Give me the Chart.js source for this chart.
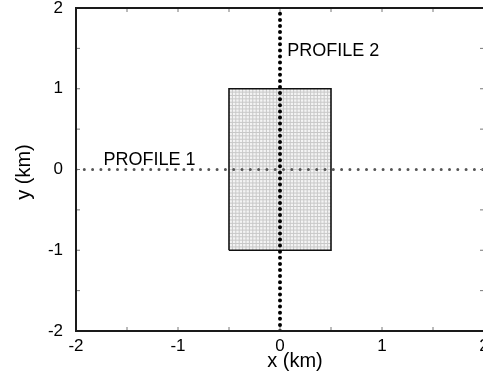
<!DOCTYPE html>
<html>
<head>
<meta charset="utf-8">
<script src="https://cdn.jsdelivr.net/npm/chart.js@4"></script>
<style>
  html, body { margin: 0; padding: 0; background: #fff; overflow: hidden; }
  canvas { display: block; }
</style>
</head>
<body>
<canvas id="profileMap" width="500" height="379"></canvas>
<script>
// axis range and tick labels (km)
const axisRange = [-2, 2];
const tickValues = [-2, -1, 0, 1, 2];
const minorTicks = [-2, -1.5, -1, -0.5, 0, 0.5, 1, 1.5, 2];

// model block outline
const blockX = [-0.5, 0.5];
const blockY = [-1, 1];
const meshCellsX = 30;
const meshCellsY = 48;

// profile lines
const profile1X = [-2, 2];
const profile1Y = [0, 0];
const profile2X = [0, 0];
const profile2Y = [-2, 2];

// profile labels: text, x, y (km)
const labelText = ['PROFILE 1', 'PROFILE 2'];
const labelX = [-1.73, 0.07];
const labelY = [0.055, 1.41];

const FONT = '"Liberation Sans", Arial, Helvetica, sans-serif';

function line(xs, ys, style) {
  return Object.assign({
    data: xs.map((x, i) => ({ x: x, y: ys[i] })),
    showLine: true,
    pointRadius: 0,
    fill: false
  }, style);
}

const datasets = [];

// profile lines on top (lowest index is drawn last)
datasets.push(line(profile2X, profile2Y, {
  borderColor: '#000', borderWidth: 4, borderDash: [0, 6.1], borderCapStyle: 'round'
}));
datasets.push(line(profile1X, profile1Y, {
  borderColor: '#555', borderWidth: 3, borderDash: [0, 8.3], borderCapStyle: 'round'
}));

// block outline
datasets.push(line(
  [blockX[0], blockX[1], blockX[1], blockX[0], blockX[0]],
  [blockY[0], blockY[0], blockY[1], blockY[1], blockY[0]],
  { borderColor: '#111', borderWidth: 1.6, tension: 0 }
));

// mesh lines inside the block
const dx = (blockX[1] - blockX[0]) / meshCellsX;
const dy = (blockY[1] - blockY[0]) / meshCellsY;
for (let i = 1; i < meshCellsX; i++) {
  const x = blockX[0] + i * dx;
  datasets.push(line([x, x], blockY, { borderColor: '#c8c8c8', borderWidth: 1 }));
}
for (let j = 1; j < meshCellsY; j++) {
  const y = blockY[0] + j * dy;
  datasets.push(line(blockX, [y, y], { borderColor: '#c8c8c8', borderWidth: 1 }));
}

// light fill under the mesh
datasets.push(line(
  [blockX[0], blockX[1], blockX[1], blockX[0], blockX[0]],
  [blockY[0], blockY[0], blockY[1], blockY[1], blockY[0]],
  { borderWidth: 0, borderColor: 'rgba(0,0,0,0)', fill: 'shape', backgroundColor: '#f4f4f4' }
));

// frame, inward ticks, axis titles and profile labels
const framePlugin = {
  id: 'frame',
  afterDatasetsDraw(chart) {
    const { ctx, chartArea: a, scales: { x, y } } = chart;
    ctx.save();
    ctx.strokeStyle = '#777';
    ctx.lineWidth = 1;
    const tl = 4;
    ctx.beginPath();
    minorTicks.forEach(v => {
      const px = x.getPixelForValue(v);
      ctx.moveTo(px, a.bottom); ctx.lineTo(px, a.bottom - tl);
      ctx.moveTo(px, a.top); ctx.lineTo(px, a.top + tl);
      const py = y.getPixelForValue(v);
      ctx.moveTo(a.left, py); ctx.lineTo(a.left + tl, py);
      ctx.moveTo(a.right, py); ctx.lineTo(a.right - tl, py);
    });
    ctx.stroke();

    ctx.strokeStyle = '#1a1a1a';
    ctx.lineWidth = 2;
    ctx.strokeRect(a.left, a.top, a.right - a.left, a.bottom - a.top);

    ctx.fillStyle = '#000';
    ctx.font = '18px ' + FONT;
    ctx.textAlign = 'left';
    ctx.textBaseline = 'alphabetic';
    labelText.forEach((t, i) => {
      ctx.fillText(t, x.getPixelForValue(labelX[i]), y.getPixelForValue(labelY[i]));
    });

    ctx.font = '20px ' + FONT;
    ctx.textAlign = 'center';
    ctx.fillText('x (km)', 295, 367);
    ctx.translate(30, 172);
    ctx.rotate(-Math.PI / 2);
    ctx.fillText('y (km)', 0, 0);
    ctx.restore();
  }
};

new Chart(document.getElementById('profileMap').getContext('2d'), {
  type: 'scatter',
  data: { datasets: datasets },
  options: {
    responsive: false,
    animation: false,
    layout: { padding: { top: 8, right: 16, left: 0, bottom: 0 } },
    plugins: { legend: { display: false }, tooltip: { enabled: false } },
    scales: {
      x: {
        type: 'linear', min: axisRange[0], max: axisRange[1],
        grid: { display: false, drawTicks: false },
        border: { display: false },
        afterBuildTicks: s => { s.ticks = tickValues.map(v => ({ value: v })); },
        afterFit: s => { s.height = 48; s.paddingLeft = 0; s.paddingRight = 0; },
        ticks: { padding: 5, color: '#000', font: { size: 17, family: FONT }, maxRotation: 0 }
      },
      y: {
        type: 'linear', min: axisRange[0], max: axisRange[1],
        grid: { display: false, drawTicks: false },
        border: { display: false },
        afterBuildTicks: s => { s.ticks = tickValues.map(v => ({ value: v })); },
        afterFit: s => { s.width = 76; s.paddingTop = 0; s.paddingBottom = 0; },
        ticks: { padding: 13, color: '#000', font: { size: 17, family: FONT } }
      }
    }
  },
  plugins: [framePlugin]
});
</script>
</body>
</html>
